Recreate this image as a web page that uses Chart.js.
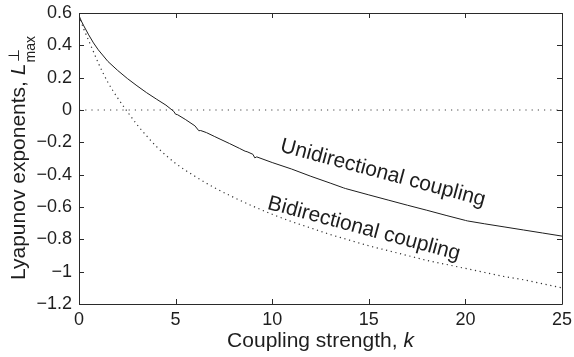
<!DOCTYPE html>
<html>
<head>
<meta charset="utf-8">
<script src="https://cdn.jsdelivr.net/npm/chart.js@4"></script>
<style>
  body { margin: 0; background: #fff; }
</style>
</head>
<body>
<canvas id="myChart" width="574" height="357"></canvas>
<script>
// coupling strength k and largest transverse exponent, one-way coupling
var kUni = [0, 0.1, 0.25, 0.5, 0.75, 1, 1.5, 2, 2.5, 3, 3.5, 4, 4.5, 4.9, 5.0, 5.1, 5.5, 6.0, 6.2, 6.3, 6.6, 7.0,
            7.3, 7.8, 8.3, 8.6, 8.7, 9.0, 9.1, 9.2, 10, 11, 12, 13, 13.7, 13.8, 15, 16, 17, 18, 19, 20,
            20.1, 21, 22, 23, 24, 25];
var lUni = [0.585, 0.555, 0.52, 0.465, 0.415, 0.372, 0.30, 0.245, 0.195, 0.15, 0.107, 0.068, 0.03, -0.008, -0.026, -0.029, -0.058, -0.098, -0.128, -0.127, -0.14, -0.163,
            -0.18, -0.208, -0.237, -0.255, -0.258, -0.274, -0.296, -0.29, -0.325, -0.365, -0.41, -0.452, -0.482, -0.486, -0.525, -0.557, -0.589, -0.62, -0.652, -0.683,
            -0.686, -0.704, -0.723, -0.742, -0.761, -0.78];

// two-way coupling
var kBi = [0, 0.1, 0.25, 0.5, 0.75, 1, 1.5, 2, 2.5, 3, 3.5, 4, 5, 6, 7, 8, 9, 10, 11, 12,
           13, 14, 15, 16, 17, 18, 19, 20, 21, 22, 23, 24, 25];
var lBi = [0.585, 0.55, 0.5, 0.43, 0.36, 0.29, 0.17, 0.075, -0.01, -0.09, -0.16, -0.225, -0.33, -0.41, -0.48, -0.54, -0.595, -0.645, -0.69, -0.73,
           -0.77, -0.805, -0.84, -0.87, -0.9, -0.93, -0.955, -0.98, -1.005, -1.03, -1.05, -1.075, -1.1];

// zero reference line
var kZero = [0, 25];
var lZero = [0, 0];

var xTicks = [0, 5, 10, 15, 20, 25];
var yTicks = [0.6, 0.4, 0.2, 0, -0.2, -0.4, -0.6, -0.8, -1, -1.2];

var FONT = "'Liberation Sans', Arial, Helvetica, sans-serif";
var INK = '#1e1e1e';

function pts(xs, ys) {
   return xs.map(function (x, i) { return { x: x, y: ys[i] }; });
}

function fmtY(v) {
   var r = Math.round(v * 10) / 10;
   if (r === 0) return '0';
   var s = Number.isInteger(r) ? String(Math.abs(r)) : Math.abs(r).toFixed(1);
   return (r < 0 ? '\u2212' : '') + s;
}

// box around the plot with inward ticks on all four sides
var framePlugin = {
   id: 'frame',
   afterDatasetsDraw: function (chart) {
      var ctx = chart.ctx, a = chart.chartArea;
      var sx = chart.scales.x, sy = chart.scales.y;
      var len = 5;
      ctx.save();
      ctx.strokeStyle = '#2a2a2a';
      ctx.lineWidth = 1;
      ctx.beginPath();
      ctx.rect(Math.round(a.left) + 0.5, Math.round(a.top) + 0.5,
               Math.round(a.right - a.left), Math.round(a.bottom - a.top));
      xTicks.forEach(function (v) {
         var px = Math.round(sx.getPixelForValue(v)) + 0.5;
         ctx.moveTo(px, a.bottom); ctx.lineTo(px, a.bottom - len);
         ctx.moveTo(px, a.top); ctx.lineTo(px, a.top + len);
      });
      yTicks.forEach(function (v) {
         var py = Math.round(sy.getPixelForValue(v)) + 0.5;
         ctx.moveTo(a.left, py); ctx.lineTo(a.left + len, py);
         ctx.moveTo(a.right, py); ctx.lineTo(a.right - len, py);
      });
      ctx.stroke();
      ctx.restore();
   }
};

// axis titles and the two curve labels
var textPlugin = {
   id: 'texts',
   afterDraw: function (chart) {
      var ctx = chart.ctx, a = chart.chartArea;
      var sx = chart.scales.x, sy = chart.scales.y;
      ctx.save();
      ctx.fillStyle = INK;

      // x title
      ctx.textBaseline = 'alphabetic';
      ctx.textAlign = 'left';
      var t1 = 'Coupling strength, ';
      ctx.font = '21px ' + FONT;
      var w1 = ctx.measureText(t1).width;
      ctx.font = 'italic 21px ' + FONT;
      var w2 = ctx.measureText('k').width;
      var x0 = (a.left + a.right) / 2 - (w1 + w2) / 2;
      ctx.font = '21px ' + FONT;
      ctx.fillText(t1, x0, 347);
      ctx.font = 'italic 21px ' + FONT;
      ctx.fillText('k', x0 + w1, 347);

      // y title, rotated
      ctx.save();
      ctx.translate(25, (a.top + a.bottom) / 2);
      ctx.rotate(-Math.PI / 2);
      var s1 = 'Lyapunov exponents, ';
      ctx.font = '21px ' + FONT;
      var ws1 = ctx.measureText(s1).width;
      ctx.font = 'italic 21px ' + FONT;
      var wl = ctx.measureText('L').width;
      ctx.font = '14px ' + FONT;
      var wm = ctx.measureText('max').width;
      var start = -(ws1 + wl + wm) / 2;
      ctx.font = '21px ' + FONT;
      ctx.fillText(s1, start, 0);
      ctx.font = 'italic 21px ' + FONT;
      ctx.fillText('L', start + ws1, 0);
      ctx.font = '14px ' + FONT;
      ctx.fillText('max', start + ws1 + wl + 1, 10);
      ctx.font = '15px ' + FONT;
      ctx.fillText('\u22A5', start + ws1 + wl + 2, -6);
      ctx.restore();

      // curve labels
      var labels = [
         { text: 'Unidirectional coupling', k: 15.73, l: -0.39 },
         { text: 'Bidirectional coupling', k: 14.75, l: -0.735 }
      ];
      ctx.font = '21px ' + FONT;
      ctx.textAlign = 'center';
      ctx.textBaseline = 'middle';
      labels.forEach(function (lb) {
         ctx.save();
         ctx.translate(sx.getPixelForValue(lb.k), sy.getPixelForValue(lb.l));
         ctx.rotate(15 * Math.PI / 180);
         ctx.fillText(lb.text, 0, 0);
         ctx.restore();
      });
      ctx.restore();
   }
};

var chrt = document.getElementById('myChart').getContext('2d');
var chartId = new Chart(chrt, {
   type: 'line',
   data: {
      datasets: [{
         label: 'Unidirectional coupling',
         data: pts(kUni, lUni),
         borderColor: INK,
         borderWidth: 1,
         pointRadius: 0,
         tension: 0,
         fill: false
      }, {
         label: 'Bidirectional coupling',
         data: pts(kBi, lBi),
         borderColor: '#333',
         borderWidth: 1.2,
         borderDash: [1.2, 3.6],
         pointRadius: 0,
         cubicInterpolationMode: 'monotone',
         fill: false
      }, {
         label: 'zero',
         data: pts(kZero, lZero),
         borderColor: '#444',
         borderWidth: 1.2,
         borderDash: [1.2, 5],
         pointRadius: 0,
         fill: false
      }]
   },
   options: {
      responsive: false,
      animation: false,
      layout: { padding: { left: 0, right: 12, top: 13, bottom: 0 } },
      plugins: {
         legend: { display: false },
         tooltip: { enabled: false }
      },
      scales: {
         x: {
            type: 'linear',
            min: 0,
            max: 25,
            grid: { display: false, drawTicks: false },
            border: { display: false },
            afterFit: function (s) {
               s.height = 53;
               s.paddingLeft = 0; s.paddingRight = 0;
            },
            afterBuildTicks: function (s) { s.ticks = xTicks.map(function (v) { return { value: v }; }); },
            ticks: {
               padding: 5,
               color: INK,
               font: { family: FONT, size: 18 },
               maxRotation: 0,
               callback: function (v) { return String(v); }
            }
         },
         y: {
            type: 'linear',
            min: -1.2,
            max: 0.6,
            grid: { display: false, drawTicks: false },
            border: { display: false },
            afterFit: function (s) {
               s.width = 79;
               s.paddingTop = 0; s.paddingBottom = 0;
            },
            afterBuildTicks: function (s) { s.ticks = yTicks.map(function (v) { return { value: v }; }); },
            ticks: {
               padding: 7,
               color: INK,
               font: { family: FONT, size: 18 },
               callback: function (v) { return fmtY(v); }
            }
         }
      }
   },
   plugins: [framePlugin, textPlugin]
});
</script>
</body>
</html>
